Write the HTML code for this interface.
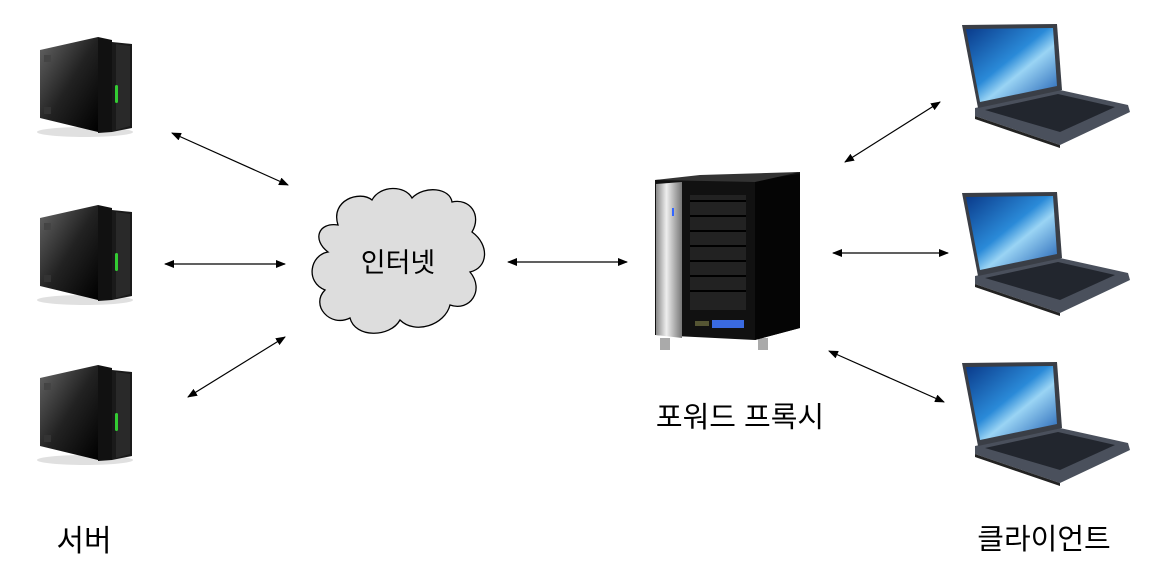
<!DOCTYPE html>
<html><head><meta charset="utf-8"><style>
html,body{margin:0;padding:0;background:#fff;width:1166px;height:576px;overflow:hidden}
svg{display:block}
text{font-family:"Liberation Sans","Noto Sans CJK KR",sans-serif;fill:#000}
</style></head><body>
<svg width="1166" height="576" viewBox="0 0 1166 576" xmlns="http://www.w3.org/2000/svg">
<defs>
<marker id="a" markerWidth="10" markerHeight="8" refX="9" refY="4" orient="auto-start-reverse" markerUnits="userSpaceOnUse">
<path d="M0,0 L10,4 L0,8 z" fill="#000"/></marker>
<linearGradient id="sf" x1="0" y1="0" x2="1" y2="1"><stop offset="0" stop-color="#666"/><stop offset="0.5" stop-color="#222"/><stop offset="1" stop-color="#000"/></linearGradient>
<linearGradient id="scr" x1="0" y1="0" x2="1" y2="1"><stop offset="0" stop-color="#0a3a8a"/><stop offset="0.45" stop-color="#2a8ad8"/><stop offset="0.6" stop-color="#9ad4f4"/><stop offset="1" stop-color="#1a5ab0"/></linearGradient>
<linearGradient id="sil" x1="0" x2="1"><stop offset="0" stop-color="#888"/><stop offset="0.4" stop-color="#eee"/><stop offset="1" stop-color="#777"/></linearGradient>
<g id="srv">
<ellipse cx="85" cy="132" rx="48" ry="5" fill="#ccc" opacity="0.6"/>
<path d="M40,50 L98,37 L98,132 L40,118 z" fill="url(#sf)"/>
<path d="M98,37 L112,40 L112,132 L98,133 z" fill="#111"/>
<path d="M112,42 L132,44 L132,128 L112,132 z" fill="#1a1a1a"/>
<path d="M116,44 L130,46 L130,126 L116,130 z" fill="#333" opacity="0.6"/>
<rect x="44" y="55" width="7" height="7" fill="#444"/>
<rect x="44" y="107" width="7" height="7" fill="#333"/>
<rect x="115" y="85" width="3" height="18" rx="1.5" fill="#3c3"/>
</g>
<g id="lap">
<path d="M975,116 L1060,145 L1130,112 L1128,105 L1060,90 L975,108 z" fill="#4a505c"/>
<path d="M985,110 L1058,94 L1115,107 L1060,132 z" fill="#22262e"/>
<path d="M962,25 L1057,24 L1062,90 L978,108 z" fill="#3a3e46"/>
<path d="M966,29 L1053,28 L1057,86 L980,102 z" fill="url(#scr)"/>
<path d="M975,116 L1060,145 L1060,148 L975,119 z" fill="#222"/>
</g>
</defs>

<use href="#srv"/>
<use href="#srv" transform="translate(0,168)"/>
<use href="#srv" transform="translate(0,328)"/>

<use href="#lap"/>
<use href="#lap" transform="translate(0,168)"/>
<use href="#lap" transform="translate(0,338)"/>

<g>
<rect x="660" y="338" width="10" height="12" fill="#aaa"/>
<rect x="758" y="338" width="10" height="12" fill="#aaa"/>
<path d="M655,180 L755,175 L800,172 L800,328 L755,340 L655,335 z" fill="#111"/>
<path d="M755,180 L800,174 L800,328 L755,340 z" fill="#050505"/>
<path d="M655,180 L700,175 L800,172 L755,182 z" fill="#333"/>
<path d="M656,184 L682,182 L682,338 L656,335 z" fill="url(#sil)"/>
<rect x="672" y="208" width="2" height="8" fill="#36f"/>
<rect x="690" y="195" width="56" height="115" fill="#222"/>
<g fill="#000">
<rect x="690" y="200" width="56" height="2"/><rect x="690" y="215" width="56" height="2"/><rect x="690" y="230" width="56" height="2"/><rect x="690" y="245" width="56" height="2"/><rect x="690" y="260" width="56" height="2"/><rect x="690" y="275" width="56" height="2"/><rect x="690" y="290" width="56" height="2"/>
</g>
<rect x="712" y="320" width="32" height="8" fill="#3a6ae0"/>
<rect x="695" y="321" width="14" height="5" fill="#553"/>
</g>

<path d="M338,225 C330,200 360,190 372,200 C380,185 405,185 412,198 C425,185 450,188 452,202 C470,198 482,215 472,232 C490,245 488,268 470,272 C485,290 470,312 450,305 C445,325 415,335 400,320 C390,338 355,338 350,318 C330,328 310,305 325,290 C305,282 310,255 328,252 C312,240 318,222 338,225 z" fill="#ddd" stroke="#000" stroke-width="1.3"/>
<text x="398" y="272" font-size="27" text-anchor="middle">인터넷</text>

<g stroke="#000" stroke-width="1.2" marker-start="url(#a)" marker-end="url(#a)">
<line x1="172" y1="133" x2="288" y2="185"/>
<line x1="165" y1="264" x2="285" y2="264"/>
<line x1="188" y1="397" x2="285" y2="337"/>
<line x1="508" y1="262" x2="627" y2="262"/>
<line x1="845" y1="162" x2="940" y2="102"/>
<line x1="833" y1="253" x2="948" y2="253"/>
<line x1="829" y1="351" x2="944" y2="402"/>
</g>

<text x="84" y="551" font-size="30" text-anchor="middle">서버</text>
<text x="740" y="427" font-size="29" text-anchor="middle">포워드 프록시</text>
<text x="1044" y="549" font-size="29" text-anchor="middle">클라이언트</text>
</svg>
</body></html>
